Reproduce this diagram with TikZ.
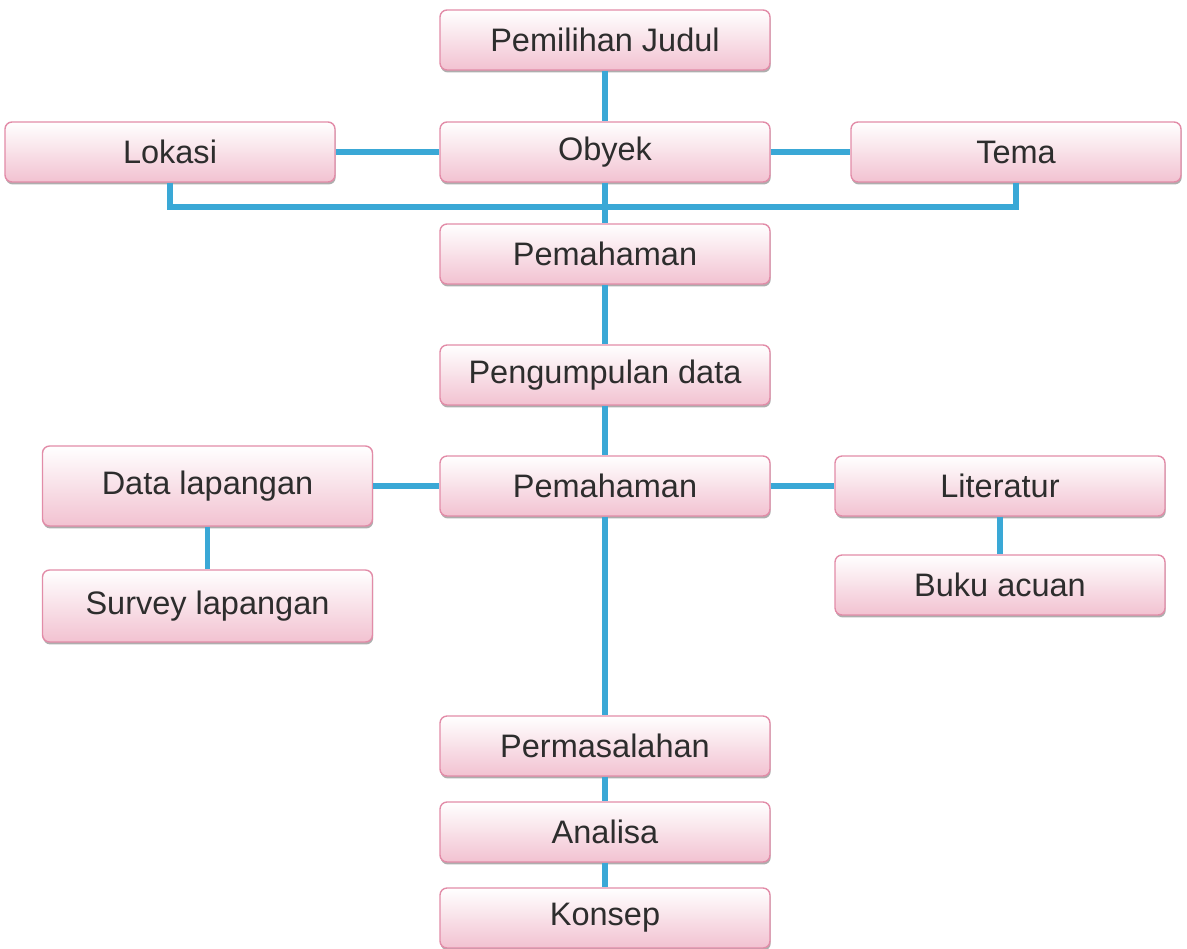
\documentclass[tikz,border=0pt]{standalone}
\usepackage{fontspec}
\setmainfont{Liberation Sans}
\usetikzlibrary{shadows}
\definecolor{linkblue}{RGB}{58,168,214}
\definecolor{boxline}{RGB}{226,140,168}
\definecolor{boxpink}{RGB}{242,194,209}
\definecolor{boxtext}{RGB}{45,45,45}
\begin{document}
\begin{tikzpicture}[box/.style={rectangle,rounded corners=4pt,draw=boxline,line width=0.8pt,top color=white,bottom color=boxpink,minimum width=6.6cm,minimum height=1.2cm,text=boxtext,font=\fontsize{18.5}{22}\selectfont,drop shadow={shadow xshift=0.4pt,shadow yshift=-1.4pt,fill=black!45,opacity=0.7}},link/.style={draw=linkblue,line width=3.2pt}]

                \useasboundingbox (0,0) rectangle (23.74,-18.96);

                \node[box] at (12.1, -0.8) (judul) {Pemilihan Judul};
                \node[box] at (3.4, -3.04) (lokasi) {Lokasi};
                \node[box] at (12.1, -3.04) (obyek) {Obyek};
                \node[box] at (20.32, -3.04) (tema) {Tema};
                \node[box] at (12.1, -5.08) (paham) {Pemahaman};
                \node[box] at (12.1, -7.5) (kumpul) {Pengumpulan data};
                \node[box] at (12.1, -9.72) (pahamdua) {Pemahaman};
                \node[box,minimum height=1.6cm] at (4.15, -9.72) (datalap) {Data lapangan};
                \node[box,minimum height=1.44cm] at (4.15, -12.12) (survey) {Survey lapangan};
                \node[box] at (20.0, -9.72) (literatur) {Literatur};
                \node[box] at (20.0, -11.7) (buku) {Buku acuan};
                \node[box] at (12.1, -14.92) (masalah) {Permasalahan};
                \node[box] at (12.1, -16.64) (analisa) {Analisa};
                \node[box] at (12.1, -18.36) (konsep) {Konsep};

                \coordinate (bus) at (0, -4.14);

                \path[link] (judul) edge[] node {} (obyek);
                \path[link] (lokasi) edge[] node {} (obyek);
                \path[link] (obyek) edge[] node {} (tema);
                \path[link] (obyek) edge[] node {} (paham);
                \path[link] (lokasi.south) |- (tema.south |- bus) -- (tema.south);
                \path[link] (paham) edge[] node {} (kumpul);
                \path[link] (kumpul) edge[] node {} (pahamdua);
                \path[link] (datalap) edge[] node {} (pahamdua);
                \path[link] (pahamdua) edge[] node {} (literatur);
                \path[link] (datalap) edge[] node {} (survey);
                \path[link] (literatur) edge[] node {} (buku);
                \path[link] (pahamdua) edge[] node {} (masalah);
                \path[link] (masalah) edge[] node {} (analisa);
                \path[link] (analisa) edge[] node {} (konsep);
            \end{tikzpicture}
\end{document}
